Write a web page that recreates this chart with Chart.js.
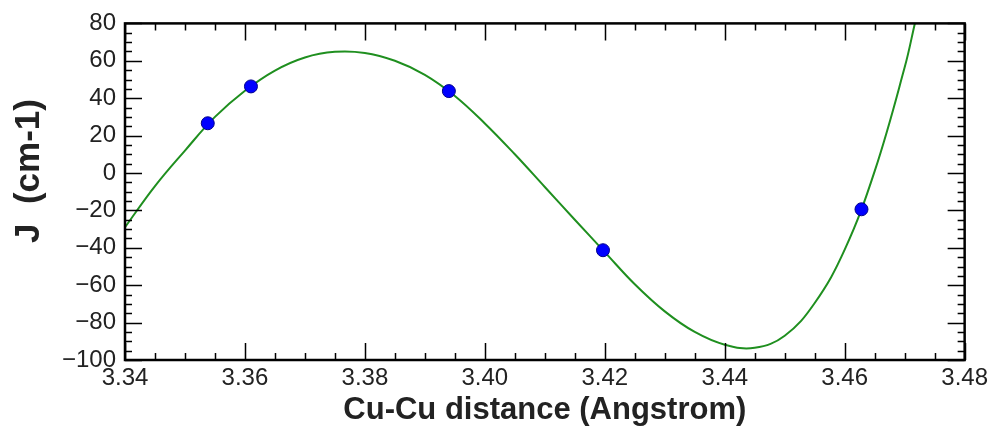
<!DOCTYPE html>
<html lang="en">
<head>
    <meta charset="UTF-8">
    <title>J vs Cu-Cu distance</title>
    <script src="https://cdn.jsdelivr.net/npm/chart.js"></script>
    <style>
        body {
            margin: 0;
            padding: 0;
            background: #fff;
        }

        .wrap {
            width: 992px;
            height: 428px;
        }
    </style>
</head>
<body>
    <div class="wrap">
        <canvas id="jChart" width="992" height="428"></canvas>
    </div>

    <script>
        // fitted curve
        const curveX = [3.340, 3.345, 3.350, 3.355, 3.360, 3.365, 3.370, 3.375, 3.380, 3.385,
                        3.390, 3.395, 3.400, 3.405, 3.410, 3.415, 3.420, 3.425, 3.430, 3.435,
                        3.440, 3.445, 3.450, 3.455, 3.460, 3.465, 3.470, 3.4717];
        const curveY = [-29, -7, 12, 30, 44, 54.8, 61.8, 64.8, 64.2, 60,
                        52.5, 41.2, 26.5, 10, -7.5, -25, -42.3, -59.5, -74, -85,
                        -91.8, -93.5, -87, -69.5, -41, 1, 56.5, 80];

        // computed points
        const pointX = [3.3538, 3.361, 3.394, 3.4197, 3.4628];
        const pointY = [26.6, 46.3, 43.8, -41.3, -19.4];

        const xMin = 3.34, xMax = 3.48, xStep = 0.02, xMinor = 0.005;
        const yMin = -100, yMax = 80, yStep = 20, yMinor = 5;

        const xTitle = 'Cu-Cu distance (Angstrom)';
        const yTitle = 'J  (cm-1)';

        const FONT = '"Liberation Sans", Arial, sans-serif';

        const toXY = (xs, ys) => xs.map((x, i) => ({ x: x, y: ys[i] }));

        // frame, inward ticks and axis titles
        const framePlugin = {
            id: 'frame',
            afterDatasetsDraw(chart) {
                const { ctx, chartArea: a, scales } = chart;
                const xs = scales.x, ys = scales.y;
                ctx.save();
                ctx.strokeStyle = '#000';

                ctx.lineWidth = 1.5;
                ctx.beginPath();
                const nx = Math.round((xMax - xMin) / xMinor);
                for (let i = 0; i <= nx; i++) {
                    const v = xMin + i * xMinor;
                    const px = Math.round(xs.getPixelForValue(v)) + 0.5;
                    const len = i % 4 === 0 ? 17 : 7;
                    ctx.moveTo(px, a.bottom);
                    ctx.lineTo(px, a.bottom - len);
                    ctx.moveTo(px, a.top);
                    ctx.lineTo(px, a.top + len);
                }
                const ny = Math.round((yMax - yMin) / yMinor);
                for (let i = 0; i <= ny; i++) {
                    const v = yMin + i * yMinor;
                    const py = Math.round(ys.getPixelForValue(v)) + 0.5;
                    const len = i % 4 === 0 ? 17 : 7;
                    ctx.moveTo(a.left, py);
                    ctx.lineTo(a.left + len, py);
                    ctx.moveTo(a.right, py);
                    ctx.lineTo(a.right - len, py);
                }
                ctx.stroke();

                ctx.lineWidth = 2.5;
                ctx.strokeRect(a.left, a.top, a.right - a.left, a.bottom - a.top);

                ctx.fillStyle = '#222';
                ctx.textAlign = 'center';
                ctx.textBaseline = 'middle';
                ctx.font = 'bold 31px ' + FONT;
                ctx.fillText(xTitle, (a.left + a.right) / 2, 410);

                ctx.font = 'bold 35px ' + FONT;
                ctx.translate(29, 171);
                ctx.rotate(-Math.PI / 2);
                ctx.fillText(yTitle, 0, 0);
                ctx.restore();
            }
        };

        new Chart(document.getElementById('jChart'), {
            type: 'scatter',
            data: {
                datasets: [
                    {
                        data: toXY(pointX, pointY),
                        backgroundColor: '#0000ff',
                        borderColor: '#00008b',
                        borderWidth: 1,
                        pointRadius: 6.5,
                        showLine: false,
                        order: 0,
                    },
                    {
                        data: toXY(curveX, curveY),
                        showLine: true,
                        borderColor: '#1f8f1f',
                        borderWidth: 2,
                        pointRadius: 0,
                        tension: 0.4,
                        order: 1,
                    },
                ],
            },
            options: {
                responsive: false,
                animation: false,
                events: [],
                layout: { padding: { left: 0, top: 23, right: 27, bottom: 0 } },
                plugins: {
                    legend: { display: false },
                    tooltip: { enabled: false },
                },
                scales: {
                    x: {
                        type: 'linear',
                        min: xMin,
                        max: xMax,
                        afterFit: s => { s.height = 68; },
                        grid: { display: false, drawTicks: false },
                        border: { display: false },
                        ticks: {
                            stepSize: xStep,
                            padding: 4,
                            color: '#222',
                            font: { family: FONT, size: 24 },
                            callback: v => v.toFixed(2),
                        },
                    },
                    y: {
                        min: yMin,
                        max: yMax,
                        afterFit: s => { s.width = 125; },
                        grid: { display: false, drawTicks: false },
                        border: { display: false },
                        ticks: {
                            stepSize: yStep,
                            padding: 9,
                            color: '#222',
                            font: { family: FONT, size: 24 },
                            callback: v => (v < 0 ? '\u2212' + Math.abs(v) : String(v)),
                        },
                    },
                },
            },
            plugins: [framePlugin],
        });
    </script>
</body>
</html>
